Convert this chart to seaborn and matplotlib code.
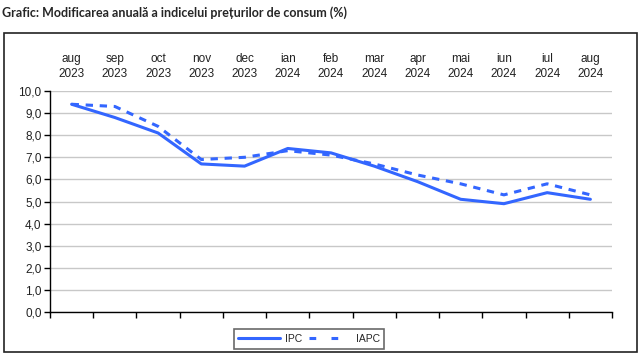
import pandas as pd
import numpy as np
import matplotlib
matplotlib.use('Agg')
import matplotlib.pyplot as plt
import seaborn as sns
from matplotlib.patches import Rectangle
from matplotlib.lines import Line2D

# Data
months = ['aug\n2023', 'sep\n2023', 'oct\n2023', 'nov\n2023', 'dec\n2023', 'ian\n2024',
          'feb\n2024', 'mar\n2024', 'apr\n2024', 'mai\n2024', 'iun\n2024', 'iul\n2024', 'aug\n2024']
ipc = [9.4, 8.8, 8.1, 6.7, 6.6, 7.4, 7.2, 6.6, 5.9, 5.1, 4.9, 5.4, 5.1]
iapc = [9.4, 9.3, 8.4, 6.9, 7.0, 7.3, 7.1, 6.7, 6.2, 5.8, 5.3, 5.8, 5.3]

sns.set_style('white')
plt.rcParams['font.family'] = ['Liberation Sans', 'DejaVu Sans']

df = pd.DataFrame({'idx': list(range(len(months))) * 2,
                   'val': ipc + iapc,
                   'serie': ['IPC'] * len(ipc) + ['IAPC'] * len(iapc)})

fig = plt.figure(figsize=(6.4, 3.6), dpi=100)
ax = fig.add_axes([50 / 640, 48 / 360, 562 / 640, 221 / 360])

blue = '#3366ff'
sns.lineplot(data=df, x='idx', y='val', hue='serie', style='serie',
             palette={'IPC': blue, 'IAPC': blue},
             dashes={'IPC': '', 'IAPC': (2.4, 2.2)},
             linewidth=2.2, ax=ax, legend=False)

ax.set_xlim(-0.5, len(months) - 0.5)
ax.set_ylim(0, 10)
yt = np.arange(0, 10.1, 1)
ax.set_yticks(yt)
ax.set_yticklabels([f'{v:.1f}'.replace('.', ',') for v in yt])
ax.set_xticks(np.arange(-0.5, len(months), 1))
ax.set_xticklabels([])
ax.tick_params(axis='both', direction='out', length=4, width=1, color='black', pad=2,
               bottom=True, left=True, labelsize=8.5, labelcolor='#222222')
ax.set_xlabel('')
ax.set_ylabel('')
ax.grid(axis='y', color='#c8c8c8', linewidth=1)
ax.set_axisbelow(True)
for s in ['top', 'right']:
    ax.spines[s].set_visible(False)
for s in ['left', 'bottom']:
    ax.spines[s].set_color('black')
    ax.spines[s].set_linewidth(1)

# month labels above the plot
for i, m in enumerate(months):
    ax.text(i, 10.5, m, ha='center', va='bottom', fontsize=8.5, linespacing=1.3,
            color='#222222', clip_on=False)

# legend
handles = [Line2D([], [], color=blue, lw=2.2),
           Line2D([], [], color=blue, lw=2.2, dashes=(2.2, 5))]
leg = fig.legend(handles, ['IPC', 'IAPC'], loc='center', bbox_to_anchor=(309 / 640, 21 / 360),
                 ncol=2, fontsize=7.5, frameon=True, fancybox=False, edgecolor='#444444',
                 handlelength=4.0, columnspacing=0.6, handletextpad=0.5, borderpad=0.45)
leg.get_frame().set_linewidth(1.2)

# outer chart frame
fig.patches.append(Rectangle((4 / 640, 8 / 360), 633 / 640, 319 / 360, transform=fig.transFigure,
                             fill=False, edgecolor='#222222', linewidth=1.2))

fig.text(2 / 640, 1 - 13 / 360, 'Grafic: Modificarea anuală a indicelui prețurilor de consum (%)',
         fontsize=9, fontweight='bold', va='center', ha='left', family=['Lato', 'DejaVu Sans'])

fig.savefig('out.png', dpi=100)
